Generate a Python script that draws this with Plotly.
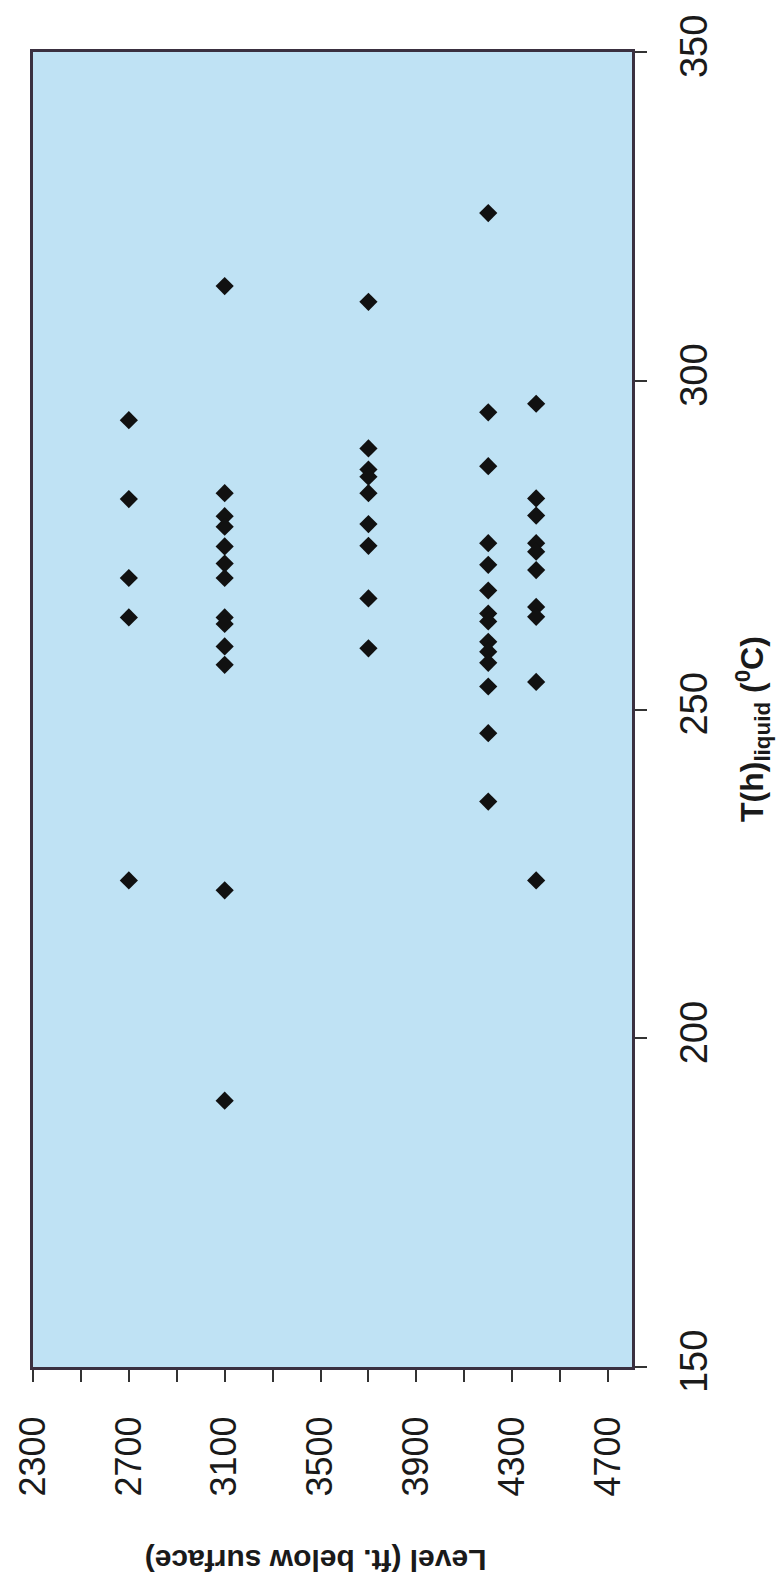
import plotly.graph_objects as go

# Level (ft. below surface) groups and the T(h)liquid values read for each
levels = [2700, 3100, 3700, 4200, 4400]
temps_2700 = [294.0, 282.0, 270.0, 264.0, 224.0]
temps_3100 = [314.4, 282.9, 279.4, 277.8, 274.8, 272.2, 270.0, 264.0, 263.0,
              259.6, 256.8, 222.5, 190.5]
temps_3700 = [312.0, 289.7, 286.5, 285.4, 282.9, 278.2, 274.9, 266.9, 259.3]
temps_4200 = [325.5, 295.2, 287.0, 275.3, 272.0, 268.1, 264.6, 263.4, 260.3,
              258.8, 257.1, 253.5, 246.4, 236.0]
temps_4400 = [296.5, 282.1, 279.5, 275.3, 274.0, 271.2, 265.6, 264.1, 254.2,
              224.0]

level_ticks = [2300, 2700, 3100, 3500, 3900, 4300, 4700]
temp_ticks = [150, 200, 250, 300, 350]

groups = [temps_2700, temps_3100, temps_3700, temps_4200, temps_4400]
xs, ys = [], []
for lv, tl in zip(levels, groups):
    xs += [lv] * len(tl)
    ys += tl

fig = go.Figure()
fig.add_trace(go.Scatter(
    x=xs, y=ys, mode="markers",
    marker=dict(symbol="diamond", size=14, color="#111111",
                line=dict(width=0)),
    showlegend=False,
))

border = "#3a3040"
fig.update_layout(
    width=784, height=1590,
    margin=dict(l=28, r=152, t=52, b=223),
    paper_bgcolor="white",
    plot_bgcolor="#bfe2f4",
    font=dict(family="Liberation Sans, Arial, sans-serif", color="#1a1a1a"),
    xaxis=dict(
        range=[2300, 4800], tickvals=level_ticks,
        ticktext=[str(v) for v in level_ticks],
        tickangle=-90, ticks="outside", ticklen=12, tickwidth=1.5,
        tickcolor="#333", showgrid=False, zeroline=False,
        showline=True, linecolor=border, linewidth=3, mirror=True,
        tickfont=dict(size=36), ticklabelstandoff=20,
        minor=dict(dtick=200, tick0=2300, ticks="outside", ticklen=12,
                   tickwidth=1.5, tickcolor="#333", showgrid=False),
    ),
    yaxis=dict(
        range=[150, 350], tickvals=temp_ticks,
        ticktext=[str(v) for v in temp_ticks],
        side="right", tickangle=-90, ticks="outside", ticklen=12,
        tickwidth=1.5, tickcolor="#333", showgrid=False, zeroline=False,
        showline=True, linecolor=border, linewidth=3, mirror=True,
        tickfont=dict(size=38), ticklabelstandoff=14,
    ),
    annotations=[
        dict(text="<b>T(h)<sub>liquid</sub> (<sup>0</sup>C)</b>",
             xref="paper", yref="paper", x=1.200, y=0.485,
             xanchor="center", yanchor="middle", textangle=-90,
             showarrow=False, font=dict(size=32, color="#1a1a1a")),
        dict(text="<b>Level (ft. below surface)</b>",
             xref="paper", yref="paper", x=0.472, y=-0.147,
             xanchor="center", yanchor="middle", textangle=180,
             showarrow=False, font=dict(size=30, color="#1a1a1a")),
    ],
)

fig.write_html("out.html")
